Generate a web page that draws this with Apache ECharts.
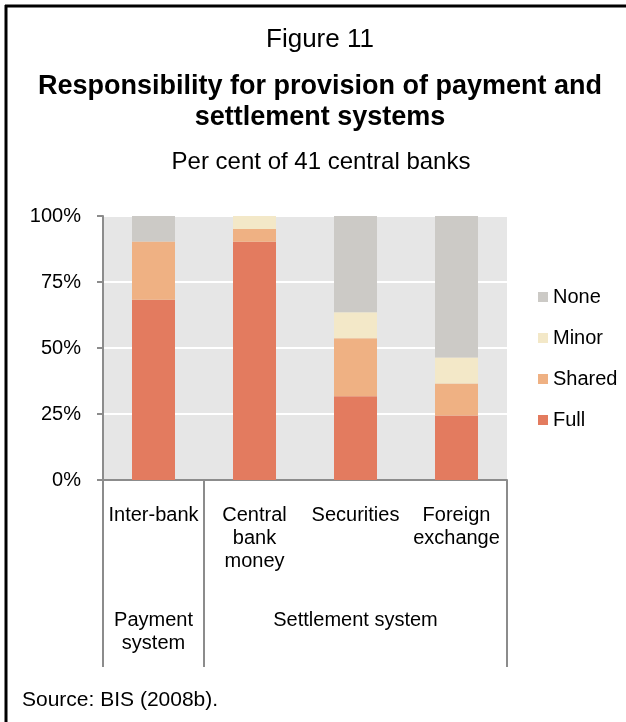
<!DOCTYPE html>
<html>
<head>
<meta charset="utf-8">
<script src="https://cdn.jsdelivr.net/npm/echarts@6/dist/echarts.min.js"></script>
<style>
  html, body { margin: 0; padding: 0; background: #ffffff; }
  #chart { width: 626px; height: 722px; }
</style>
</head>
<body>
<div id="chart"></div>
<script>
// Categories along the x axis and the two system groups beneath them
var categories = ['Inter-bank', 'Central\nbank\nmoney', 'Securities', 'Foreign\nexchange'];
var groupLabels = ['Payment\nsystem', '', 'Settlement system', ''];

// Share of the 41 central banks, per cent
var full   = [68.3, 90.2, 31.7, 24.4];
var shared = [22.0,  4.9, 22.0, 12.2];
var minor  = [ 0.0,  4.9,  9.8,  9.8];
var none   = [ 9.7,  0.0, 36.5, 53.6];

var yTicks = [0, 25, 50, 75, 100];

var FONT = '"Liberation Sans", Arial, sans-serif';
var AXIS_GREY = '#8c8c8c';

var chart = echarts.init(document.getElementById('chart'), null, { renderer: 'canvas' });

function barSeries(name, data, color) {
  return {
    name: name,
    type: 'bar',
    stack: 'total',
    data: data,
    barWidth: 43,
    itemStyle: { color: color },
    emphasis: { disabled: true }
  };
}

chart.setOption({
  animation: false,
  backgroundColor: '#ffffff',
  textStyle: { fontFamily: FONT },
  graphic: [
    { type: 'line', shape: { x1: 5, y1: 6, x2: 626, y2: 6 }, style: { stroke: '#000', lineWidth: 3 } },
    { type: 'line', shape: { x1: 6, y1: 5, x2: 6, y2: 722 }, style: { stroke: '#000', lineWidth: 3 } },
    { type: 'text', x: 320, y: 40, style: { text: 'Figure 11', font: '26px ' + FONT, fill: '#000', textAlign: 'center', textVerticalAlign: 'middle' } },
    { type: 'text', x: 320, y: 87, style: { text: 'Responsibility for provision of payment and', font: 'bold 27px ' + FONT, fill: '#000', textAlign: 'center', textVerticalAlign: 'middle' } },
    { type: 'text', x: 320, y: 118, style: { text: 'settlement systems', font: 'bold 27px ' + FONT, fill: '#000', textAlign: 'center', textVerticalAlign: 'middle' } },
    { type: 'text', x: 321, y: 162, style: { text: 'Per cent of 41 central banks', font: '24px ' + FONT, fill: '#000', textAlign: 'center', textVerticalAlign: 'middle' } },
    { type: 'text', x: 22, y: 700, style: { text: 'Source: BIS (2008b).', font: '21px ' + FONT, fill: '#000', textAlign: 'left', textVerticalAlign: 'middle' } }
  ],
  legend: {
    orient: 'vertical',
    left: 533,
    top: 282,
    itemWidth: 10,
    itemHeight: 10,
    itemGap: 21,
    icon: 'rect',
    data: ['None', 'Minor', 'Shared', 'Full'],
    textStyle: { fontSize: 20, lineHeight: 20, color: '#000', fontFamily: FONT },
    selectedMode: false
  },
  grid: {
    left: 103,
    right: 119,
    top: 216,
    bottom: 242,
    show: true,
    backgroundColor: '#e6e6e6',
    borderWidth: 0
  },
  xAxis: [
    {
      type: 'category',
      data: categories,
      position: 'bottom',
      axisLine: { show: true, lineStyle: { color: AXIS_GREY, width: 2 } },
      axisTick: {
        show: true,
        length: 187,
        interval: function (i) { return i <= 1; },
        lineStyle: { color: AXIS_GREY, width: 2 }
      },
      axisLabel: {
        interval: 0,
        margin: 24,
        fontSize: 20,
        lineHeight: 23,
        color: '#000',
        fontFamily: FONT,
        verticalAlign: 'top'
      },
      splitLine: { show: false }
    },
    {
      type: 'category',
      data: groupLabels,
      position: 'bottom',
      axisLine: { show: false },
      axisTick: { show: false },
      axisLabel: {
        interval: 0,
        margin: 129,
        fontSize: 20,
        lineHeight: 23,
        color: '#000',
        fontFamily: FONT,
        verticalAlign: 'top'
      },
      splitLine: { show: false }
    }
  ],
  yAxis: {
    type: 'value',
    min: yTicks[0],
    max: yTicks[yTicks.length - 1],
    interval: 25,
    axisLine: { show: true, lineStyle: { color: AXIS_GREY, width: 2 } },
    axisTick: { show: true, length: 6, lineStyle: { color: AXIS_GREY, width: 2 } },
    axisLabel: {
      margin: 22,
      fontSize: 20,
      color: '#000',
      fontFamily: FONT,
      formatter: '{value}%'
    },
    splitLine: { show: true, lineStyle: { color: '#ffffff', width: 2 } }
  },
  series: [
    barSeries('Full', full, '#e37b5f'),
    barSeries('Shared', shared, '#efb183'),
    barSeries('Minor', minor, '#f3e8c8'),
    barSeries('None', none, '#cccac6')
  ]
});
</script>
</body>
</html>
